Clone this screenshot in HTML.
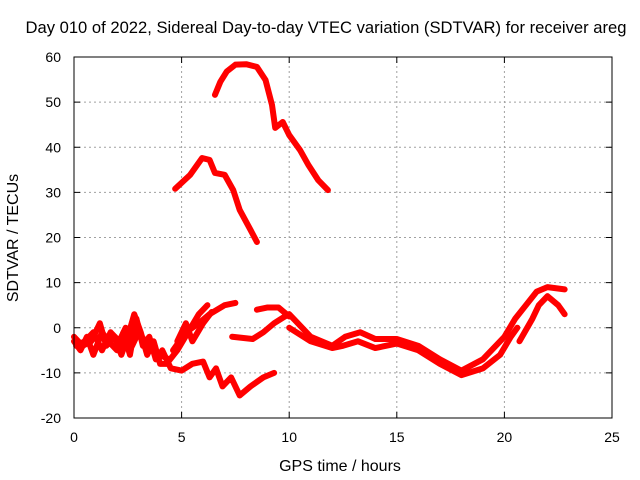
<!DOCTYPE html>
<html><head><meta charset="utf-8"><style>
body{margin:0;background:#fff;}
svg{display:block;font-family:"Liberation Sans",sans-serif;font-size:14px;}
</style></head><body>
<svg width="640" height="480">
<text x="326" y="33" text-anchor="middle" style="font-size:16.6px">Day 010 of 2022, Sidereal Day-to-day VTEC variation (SDTVAR) for receiver areg</text>
<g id="grid"></g>
<g id="ticks"></g>
<g id="series"></g>
<rect x="74" y="57" width="538" height="361" fill="none" stroke="#000" stroke-width="1"/>
<text x="340" y="471" text-anchor="middle" style="font-size:16px">GPS time / hours</text>
<text transform="translate(18,238) rotate(-90)" text-anchor="middle" style="font-size:16px">SDTVAR / TECUs</text>
</svg>
<script>
const xTicks=[0,5,10,15,20,25];
const yTicks=[-20,-10,0,10,20,30,40,50,60];
const seriesTop=[[6.55,51.6],[6.8,54.5],[7.1,56.8],[7.5,58.3],[8.0,58.4],[8.5,57.8],[8.9,54.9],[9.2,49.4],[9.35,44.3],[9.7,45.6],[10.0,42.7],[10.5,39.4],[10.9,36],[11.35,32.7],[11.8,30.5]];
const seriesMid=[[4.7,30.8],[5.4,33.9],[5.95,37.6],[6.3,37.2],[6.55,34.3],[7.0,33.9],[7.4,30.5],[7.7,26.1],[8.2,21.7],[8.5,19]];
const seriesLowA=[[0,-3],[0.3,-5],[0.6,-2],[0.9,-6],[1.3,-1],[1.6,-3],[2.0,-5],[2.3,-1],[2.6,-6],[2.9,2],[3.2,-4],[3.5,-2],[3.8,-7],[4.1,-5],[4.5,-9],[5.0,-9.5],[5.5,-8],[6.0,-7.5],[6.3,-11],[6.6,-9],[6.9,-13],[7.3,-11],[7.7,-15],[8.2,-13],[8.8,-11],[9.3,-10]];
const seriesLowB=[[0,-2],[0.4,-4],[0.8,-3],[1.2,1],[1.5,-4],[1.9,-2],[2.2,-6],[2.5,-2],[2.8,3],[3.1,-1],[3.4,-6],[3.7,-3],[4.0,-8],[4.3,-8],[4.8,-5],[5.3,-1],[5.8,3],[6.2,5]];
const seriesLowE=[[0.1,-4],[0.5,-3],[0.9,-1],[1.3,-5],[1.7,-1],[2.1,-3],[2.4,0],[2.7,-4],[3.0,-1],[3.3,-3],[3.6,-5],[4.0,-6],[4.4,-7]];
const seriesLowC=[[4.6,-5],[5.2,-1],[5.8,1],[6.3,3],[7.0,5],[7.5,5.5]];
const seriesLowD=[[4.8,-3],[5.2,1],[5.5,-3],[6.0,1],[6.4,3.5]];
const seriesRightTop=[[8.5,4],[9.0,4.5],[9.5,4.5],[10.0,2.5]];
const seriesRightA=[[7.35,-2],[8.3,-2.5],[8.8,-1],[9.3,1],[9.8,2.5],[10.0,3],[10.4,1],[11,-2],[12,-4],[12.6,-2],[13.3,-1],[14,-2.5],[15,-2.5],[16,-4],[17,-7],[18,-9.5],[19,-7],[20,-2],[20.5,2],[21,5],[21.5,8],[22,9],[22.8,8.5]];
const seriesRightB=[[10,0],[11,-3],[12,-4.5],[12.5,-4],[13.2,-3],[14,-4.5],[15,-3.5],[16,-5],[17,-8],[18,-10.5],[19,-9],[19.8,-6],[20.3,-2],[20.6,0]];
const seriesRightC=[[20.7,-3],[21.3,2],[21.6,5],[22,7],[22.5,5],[22.8,3]];
const allSeries=[seriesTop,seriesMid,seriesLowA,seriesLowB,seriesLowE,seriesLowC,seriesLowD,seriesRightTop,seriesRightA,seriesRightB,seriesRightC];
const NS="http://www.w3.org/2000/svg";
const X0=74,X1=612,Y0=418,Y1=57;
function xs(h){return X0+(h-0)/(25-0)*(X1-X0);}
function ys(v){return Y0-(v+20)/(80)*(Y0-Y1);}
const grid=document.getElementById('grid'),ticks=document.getElementById('ticks'),ser=document.getElementById('series');
function mk(t,a,p){const e=document.createElementNS(NS,t);for(const k in a)e.setAttribute(k,a[k]);p.appendChild(e);return e;}
xTicks.forEach(t=>{const x=xs(t);
 if(t>0&&t<25){const l=mk('line',{x1:x,x2:x,y1:Y0,y2:Y1,stroke:'#a0a0a0','stroke-dasharray':'2,3'},grid);
 
 }
 mk('line',{x1:x,x2:x,y1:Y0,y2:Y0-6,stroke:'#000'},ticks);mk('line',{x1:x,x2:x,y1:Y1,y2:Y1+6,stroke:'#000'},ticks);
 const tx=mk('text',{x:x,y:Y0+24,'text-anchor':'middle'},ticks);tx.textContent=t;
 
 });
yTicks.forEach(t=>{const y=ys(t);
 if(t>-20&&t<60){const l=mk('line',{x1:X0,x2:X1,y1:y,y2:y,stroke:'#a0a0a0','stroke-dasharray':'2,3'},grid);
 
 }
 mk('line',{x1:X0,x2:X0+6,y1:y,y2:y,stroke:'#000'},ticks);mk('line',{x1:X1,x2:X1-6,y1:y,y2:y,stroke:'#000'},ticks);
 const tx=mk('text',{x:X0-13,y:y+5,'text-anchor':'end'},ticks);tx.textContent=t;
 
 });
allSeries.forEach((s,i)=>{const p=mk('polyline',{points:s.map(d=>xs(d[0])+','+ys(d[1])).join(' '),fill:'none',stroke:'#ff0000','stroke-width':6,'stroke-linejoin':'round','stroke-linecap':'round'},ser);
 
 });
</script>
</body></html>
